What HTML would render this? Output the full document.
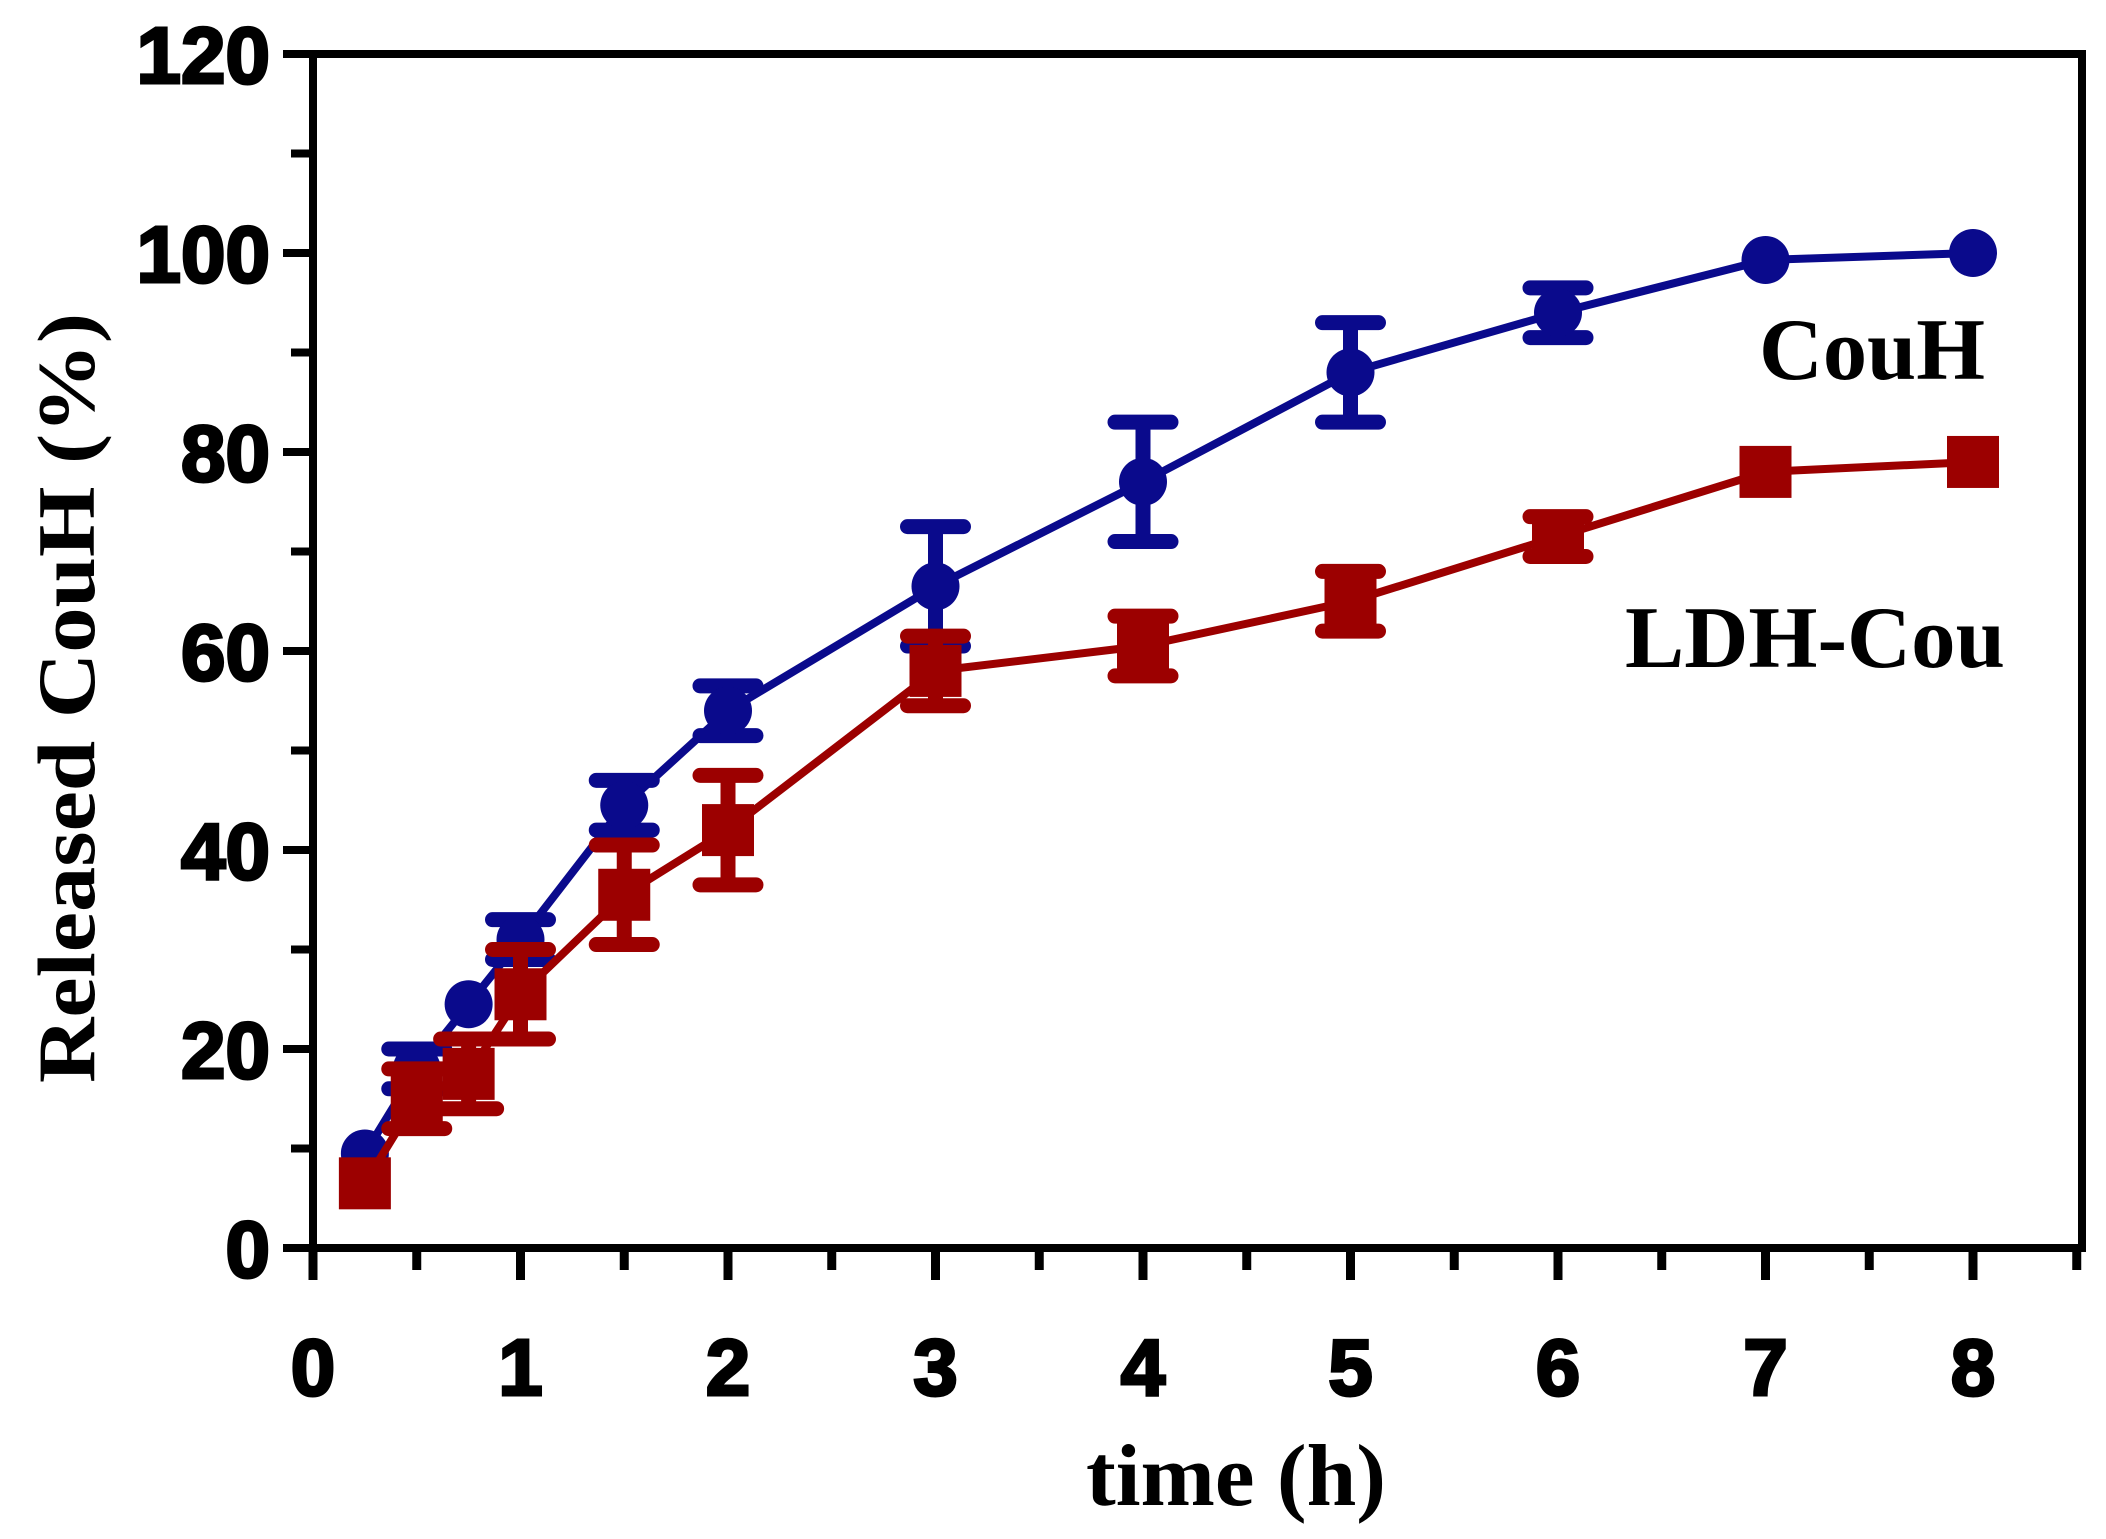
<!DOCTYPE html>
<html><head><meta charset="utf-8"><style>
html,body{margin:0;padding:0;background:#fff;}
svg{display:block;}
</style></head><body>
<svg id="chart" width="2106" height="1539" viewBox="0 0 2106 1539" xmlns="http://www.w3.org/2000/svg">
<g id="plot"></g>
</svg>
<script>
const timesCou = [0.25,0.5,0.75,1,1.5,2,3,4,5,6,7,8];
const valuesCou = [9.5,18,24.5,31,44.5,54,66.5,77,88,94,99.3,100];
const errorsCou = [0,2,0,2,2.5,2.5,6,6,5,2.5,0,0];
const timesLdh = [0.25,0.5,0.75,1,1.5,2,3,4,5,6,7,8];
const valuesLdh = [6.5,15,17.5,25.5,35.5,42,58,60.5,65,71.5,78,79];
const errorsLdh = [0,3,3.5,4.5,5,5.5,3.5,3,3,2,0,0];
const xTickLabels = [0,1,2,3,4,5,6,7,8];
const yTickLabels = [0,20,40,60,80,100,120];

const NS='http://www.w3.org/2000/svg';
const L=313,R=2082,T=54,B=1248;
const xs=v=>313+v*207.5;
const ys=v=>1248-v*(1248-54)/120;
const g=document.getElementById('plot');
function mk(tag,attrs){const e=document.createElementNS(NS,tag);for(const k in attrs)e.setAttribute(k,attrs[k]);g.appendChild(e);return e;}

let e=mk('rect',{x:L,y:T,width:R-L,height:B-T,fill:'none',stroke:'#000','stroke-width':8});



for(let v=0;v<=120;v+=10){
  const major=v%20===0;
  e=mk('line',{x1:L-(major?30:22),x2:L,y1:ys(v),y2:ys(v),stroke:'#000','stroke-width':8});
  
  
}
yTickLabels.forEach(v=>{
  e=mk('text',{x:270,y:ys(v)+29,'text-anchor':'end','font-family':'Liberation Sans, sans-serif','font-weight':'bold','font-size':80,fill:'#000',stroke:'#000','stroke-width':3});
  e.textContent=v;
  
  
});
for(let v=0;v<=8.5;v+=0.5){
  const major=Number.isInteger(v);
  e=mk('line',{x1:xs(v),x2:xs(v),y1:B,y2:B+(major?32:22),stroke:'#000','stroke-width':9});
  
  
}
xTickLabels.forEach(v=>{
  e=mk('text',{x:xs(v),y:1395,'text-anchor':'middle','font-family':'Liberation Sans, sans-serif','font-weight':'bold','font-size':80,fill:'#000',stroke:'#000','stroke-width':3});
  e.textContent=v;
  
  
});
e=mk('text',{x:1236,y:1505,'text-anchor':'middle','font-family':'Liberation Serif, serif','font-weight':'bold','font-size':88,fill:'#000',textLength:300,lengthAdjust:'spacingAndGlyphs'});
e.textContent='time (h)';


e=mk('text',{x:0,y:0,'text-anchor':'middle','font-family':'Liberation Serif, serif','font-weight':'bold','font-size':82,fill:'#000',transform:'translate(94,698) rotate(-90)',textLength:770,lengthAdjust:'spacingAndGlyphs'});
e.textContent='Released CouH (%)';



function series(times,vals,errs,color,shape,name){
  const pts=times.map((t,i)=>xs(t)+','+ys(vals[i])).join(' ');
  e=mk('polyline',{points:pts,fill:'none',stroke:color,'stroke-width':8,'stroke-linejoin':'round'});
  
  
  times.forEach((t,i)=>{
    const x=xs(t),y=ys(vals[i]);
    if(errs[i]>0){
      const y1=ys(vals[i]+errs[i]),y2=ys(vals[i]-errs[i]);
      e=mk('path',{d:`M${x},${y1}V${y2}M${x-28},${y1}H${x+28}M${x-28},${y2}H${x+28}`,stroke:color,'stroke-width':15,fill:'none','stroke-linecap':'round'});
      
      
    }
    if(shape==='circle'){
      e=mk('circle',{cx:x,cy:y,r:24,fill:color});
    }else{
      e=mk('rect',{x:x-26,y:y-26,width:52,height:52,fill:color});
    }
    
    
  });
}
series(timesCou,valuesCou,errorsCou,'#0a0a8c','circle','couh');
series(timesLdh,valuesLdh,errorsLdh,'#9c0000','square','ldh-cou');

e=mk('text',{x:1985,y:379,'text-anchor':'end','font-family':'Liberation Serif, serif','font-weight':'bold','font-size':88,fill:'#000',textLength:226,lengthAdjust:'spacingAndGlyphs'});
e.textContent='CouH';


e=mk('text',{x:2005,y:667,'text-anchor':'end','font-family':'Liberation Serif, serif','font-weight':'bold','font-size':88,fill:'#000',textLength:380,lengthAdjust:'spacingAndGlyphs'});
e.textContent='LDH-Cou';


</script>
</body></html>
